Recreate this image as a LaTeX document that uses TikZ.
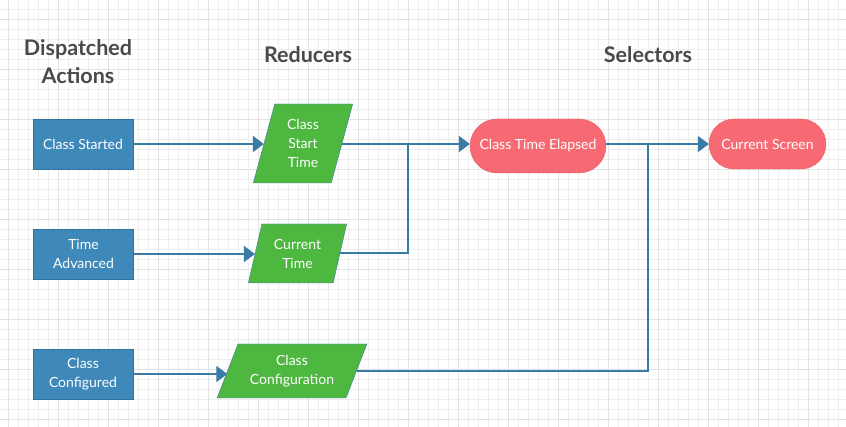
\documentclass[tikz,border=0pt]{standalone}
\usepackage{fontspec}
\setmainfont{Lato}
\usetikzlibrary{shapes.geometric, arrows.meta}
\definecolor{actionblue}{HTML}{3E88BA}
\definecolor{actionedge}{HTML}{2F729F}
\definecolor{reducergreen}{HTML}{4DB740}
\definecolor{selectorred}{HTML}{F86A73}
\definecolor{selectoredge}{HTML}{E85D66}
\definecolor{lineblue}{HTML}{3A7BA6}
\definecolor{headgray}{HTML}{4A4A4A}
\definecolor{gridminor}{HTML}{EEEEEE}
\definecolor{gridmajor}{HTML}{E2E2E2}
\tikzstyle{action} = [rectangle, draw=actionedge, fill=actionblue, text=white,
    minimum width=100pt, minimum height=50pt, align=center,
    font=\fontsize{14}{19}\selectfont]
\tikzstyle{reducer} = [trapezium, trapezium stretches=true, draw=lineblue,
    fill=reducergreen, text=white, align=center, inner sep=0pt,
    font=\fontsize{14}{19}\selectfont]
\tikzstyle{selector} = [rectangle, draw=selectoredge, fill=selectorred,
    text=white, align=center, font=\fontsize{14}{19}\selectfont]
\tikzstyle{heading} = [align=center, text=headgray,
    font=\fontsize{21.5}{28}\selectfont\bfseries]
\tikzstyle{line} = [draw=lineblue, line width=2pt,
    -{Triangle[length=11pt,width=16pt]}]
\tikzstyle{wire} = [draw=lineblue, line width=2pt]
\tikzstyle{gridline} = [draw=gridminor, line width=0.8pt]

\begin{document}
\begin{tikzpicture}[x=1pt, y=-1pt]
        \useasboundingbox (0,0) rectangle (846,427);
        % Background grid
        \fill[white] (0,0) rectangle (846,427);
        \foreach \x in {8,18,...,846}
            \draw[gridline] (\x,0) -- (\x,427);
        \foreach \y in {9,19,...,427}
            \draw[gridline] (0,\y) -- (846,\y);
        \foreach \x in {8,58,...,846}
            \draw[gridline, draw=gridmajor] (\x,0) -- (\x,427);
        \foreach \y in {19,69,...,427}
            \draw[gridline, draw=gridmajor] (0,\y) -- (846,\y);
        % Headings
        \node [heading] (actions_head) at (78,62) {Dispatched\\Actions};
        \node [heading] (reducers_head) at (308,55) {Reducers};
        \node [heading] (selectors_head) at (648,55) {Selectors};
        % Place nodes
        \node [action] (started) at (83,144) {Class Started};
        \node [action] (advanced) at (83.5,254) {Time\\Advanced};
        \node [action] (configured) at (83,374) {Class\\Configured};
        \node [reducer, trapezium left angle=76, trapezium right angle=104,
            minimum width=100pt, minimum height=79pt] (starttime) at (303,143.5) {Class\\Start\\Time};
        \node [reducer, trapezium left angle=73, trapezium right angle=107,
            minimum width=99pt, minimum height=59pt] (curtime) at (297.5,253.5) {Current\\Time};
        \node [reducer, trapezium left angle=63, trapezium right angle=117,
            minimum width=150pt, minimum height=54pt] (config) at (292,371) {Class\\Configuration};
        \node [selector, minimum width=136pt, minimum height=54pt,
            rounded corners=27pt] (elapsed) at (538,146) {Class Time Elapsed};
        \node [selector, minimum width=117pt, minimum height=50pt,
            rounded corners=25pt] (screen) at (767.5,144) {Current Screen};
        % Junctions
        \coordinate (join_time) at (408,144);
        \coordinate (join_screen) at (648,144);
        % Draw edges
        \path [line] (started) -- (started -| starttime.west);
        \path [line] (advanced) -- (advanced -| curtime.west);
        \path [line] (configured) -- (configured -| config.west);
        \path [line] (starttime.east |- join_time) -- (join_time -| elapsed.west);
        \path [wire] (curtime) -| (join_time);
        \path [line] (elapsed.east |- join_screen) -- (join_screen -| screen.west);
        \path [wire] (config) -| (join_screen);
    \end{tikzpicture}
\end{document}
